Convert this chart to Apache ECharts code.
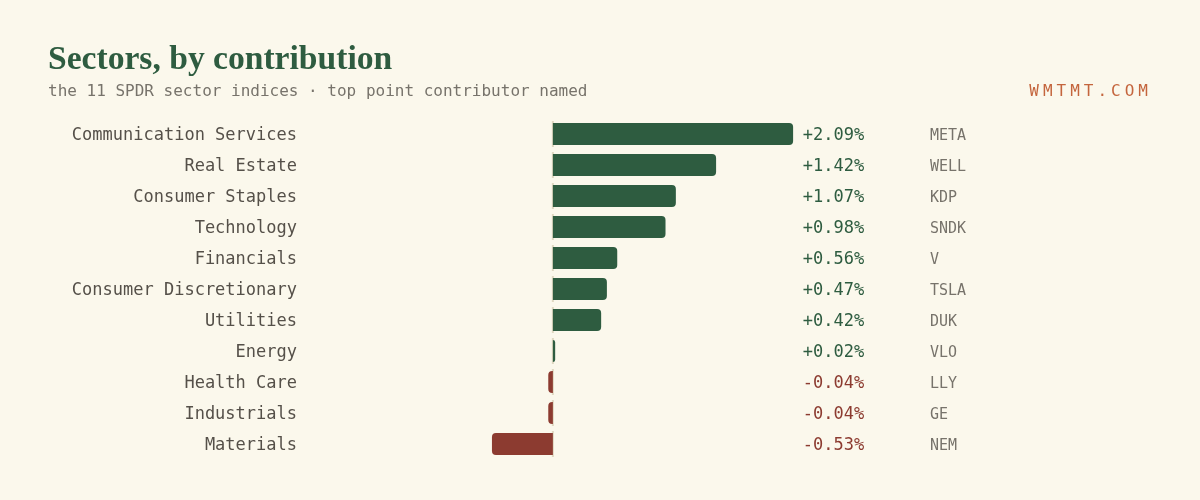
<!DOCTYPE html>
<html>
<head>
<meta charset="utf-8">
<script src="https://cdn.jsdelivr.net/npm/echarts@6/dist/echarts.min.js"></script>
<style>
  html, body { margin: 0; padding: 0; background: #fbf8ec; }
  #chart { width: 1200px; height: 500px; }
</style>
</head>
<body>
<div id="chart"></div>
<script>
const sectors = [
  "Communication Services", "Real Estate", "Consumer Staples", "Technology",
  "Financials", "Consumer Discretionary", "Utilities", "Energy",
  "Health Care", "Industrials", "Materials"
];
const contribution = [2.09, 1.42, 1.07, 0.98, 0.56, 0.47, 0.42, 0.02, -0.04, -0.04, -0.53];
const topNames = ["META", "WELL", "KDP", "SNDK", "V", "TSLA", "DUK", "VLO", "LLY", "GE", "NEM"];
const zeroLine = sectors.map(() => 0);

const GREEN = "#2e5c40";
const RED = "#8c3b30";
const MONO = "DejaVu Sans Mono";

const brand = "WMTMT.COM".split("").join("{s| }");

const chart = echarts.init(document.getElementById("chart"));

const options = {
  backgroundColor: "#fbf8ec",
  animation: false,
  title: [
    {
      text: "Sectors, by contribution",
      left: 43,
      top: 38,
      textStyle: { fontFamily: "Liberation Serif", fontWeight: "bold", fontSize: 33.6, color: GREEN },
    },
    {
      text: "the 11 SPDR sector indices · top point contributor named",
      left: 43,
      top: 79,
      textStyle: { fontFamily: MONO, fontWeight: "normal", fontSize: 16, color: "#77736b" },
    },
    {
      text: brand,
      right: 47,
      top: 79,
      textStyle: {
        fontFamily: MONO, fontWeight: "normal", fontSize: 16, color: "#c4653d",
        rich: { s: { width: 4, fontSize: 16 } },
      },
    },
  ],
  grid: { left: 300, right: 400, top: 118.5, bottom: 40.5 },
  xAxis: {
    type: "value",
    min: -2.2,
    max: 2.15,
    axisLabel: { show: false },
    axisLine: { show: false },
    axisTick: { show: false },
    splitLine: { show: false },
  },
  yAxis: [
    {
      type: "category",
      data: sectors,
      inverse: true,
      axisLine: { show: false },
      axisTick: { show: false },
      axisLabel: {
        margin: 3,
        formatter: (value) => "{c|" + value + "}",
        rich: {
          c: { fontFamily: MONO, fontSize: 17, color: "#555049", padding: [4, 0, 0, 0] },
        },
      },
    },
    {
      type: "category",
      data: sectors,
      inverse: true,
      position: "right",
      axisLine: { show: false },
      axisTick: { show: false },
      axisLabel: {
        margin: 0,
        padding: [4, 0, 0, 0],
        formatter: (value, i) => {
          const v = contribution[i];
          const txt = (v >= 0 ? "+" : "-") + Math.abs(v).toFixed(2) + "%";
          return "{" + (v >= 0 ? "pos" : "neg") + "|" + txt + "}{tk|" + topNames[i] + "}";
        },
        rich: {
          pos: { fontFamily: MONO, fontSize: 17, color: GREEN, width: 67, align: "right" },
          neg: { fontFamily: MONO, fontSize: 17, color: RED, width: 67, align: "right" },
          tk: { fontFamily: MONO, fontSize: 15, color: "#77736b", padding: [0, 0, 0, 63] },
        },
      },
    },
  ],
  series: [
    {
      type: "scatter",
      data: zeroLine,
      symbol: "rect",
      symbolSize: [2, 26],
      itemStyle: { color: "#d8d0b6" },
      silent: true,
      z: 1,
    },
    {
      type: "bar",
      data: contribution.map((v) => ({
        value: v,
        itemStyle: {
          color: v >= 0 ? GREEN : RED,
          borderRadius: v >= 0 ? [0, 4, 4, 0] : [4, 0, 0, 4],
        },
      })),
      barWidth: 22,
      z: 2,
    },
  ],
};

chart.setOption(options);
</script>
</body>
</html>
